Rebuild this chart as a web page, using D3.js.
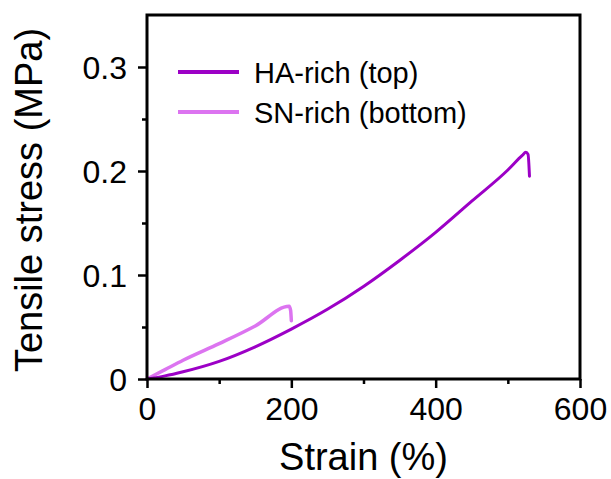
<!DOCTYPE html>
<html>
<head>
<meta charset="utf-8">
<script src="https://cdn.jsdelivr.net/npm/d3@7"></script>
<style>
  html, body { margin: 0; padding: 0; background: #fff; }
  svg { display: block; font-family: Arial, "Liberation Sans", sans-serif; }
</style>
</head>
<body>
<script>
//## Data

// strain (%) , tensile stress (MPa)
const haStrain = [0, 25, 50, 100, 150, 200, 250, 300, 350, 400, 450, 500, 520, 525, 528, 530];
const haStress = [0, 0.003, 0.007, 0.017, 0.031, 0.048, 0.067, 0.089, 0.114, 0.141, 0.171, 0.201, 0.215, 0.218, 0.216, 0.195];

const snStrain = [0, 25, 50, 100, 150, 197, 199, 200];
const snStress = [0, 0.009, 0.018, 0.034, 0.051, 0.070, 0.066, 0.056];

const seriesNames = ["HA-rich (top)", "SN-rich (bottom)"];
const seriesColors = ["#9c00c6", "#dc74f0"];

const xTicks = [0, 200, 400, 600];
const xMinor = [100, 300, 500];
const yTicks = [0, 0.1, 0.2, 0.3];
const yMinor = [0.05, 0.15, 0.25];

//## Chart

const width = 611;
const height = 479;
const margin = { top: 15, right: 31, bottom: 100, left: 147 };

const x = d3.scaleLinear().domain([0, 600]).range([margin.left, width - margin.right]);
const y = d3.scaleLinear().domain([0, 0.35]).range([height - margin.bottom, margin.top]);

const svg = d3.select("body").append("svg")
  .attr("width", width)
  .attr("height", height);

const series = [
  { name: seriesNames[0], color: seriesColors[0], width: 3, values: d3.zip(haStrain, haStress) },
  { name: seriesNames[1], color: seriesColors[1], width: 3.5, values: d3.zip(snStrain, snStress) }
];

const line = d3.line()
  .x((d) => x(d[0]))
  .y((d) => y(d[1]))
  .curve(d3.curveMonotoneX);

// draw SN first so HA lies on top
svg.append("g")
  .selectAll("path")
  .data(series.slice().reverse())
  .join("path")
  .attr("fill", "none")
  .attr("stroke", (d) => d.color)
  .attr("stroke-width", (d) => d.width)
  .attr("stroke-linejoin", "round")
  .attr("stroke-linecap", "round")
  .attr("d", (d) => line(d.values));

// frame
svg.append("rect")
  .attr("x", x(0))
  .attr("y", y(0.35))
  .attr("width", x(600) - x(0))
  .attr("height", y(0) - y(0.35))
  .attr("fill", "none")
  .attr("stroke", "#000")
  .attr("stroke-width", 3);

//## Axes

const xAxis = svg.append("g")
  .attr("transform", `translate(0,${y(0)})`)
  .call(d3.axisBottom(x).tickValues(xTicks).tickSize(9).tickFormat(d3.format("d")));

xAxis.append("g")
  .call(d3.axisBottom(x).tickValues(xMinor).tickSize(5).tickFormat(""));

const yAxis = svg.append("g")
  .attr("transform", `translate(${x(0)},0)`)
  .call(d3.axisLeft(y).tickValues(yTicks).tickSize(9).tickPadding(11).tickFormat((d) => (d === 0 ? "0" : d3.format(".1f")(d))));

yAxis.append("g")
  .call(d3.axisLeft(y).tickValues(yMinor).tickSize(5).tickFormat(""));

svg.selectAll(".domain").remove();
svg.selectAll(".tick line").attr("stroke", "#000").attr("stroke-width", 2.5);
svg.selectAll(".tick text")
  .attr("fill", "#000")
  .style("font-size", "32px")
  .style("font-family", "Arial, 'Liberation Sans', sans-serif");

xAxis.selectAll(".tick text").attr("y", 41).attr("dy", 0);
yAxis.selectAll(".tick text").attr("dy", "0.35em");

svg.append("text")
  .attr("x", (x(0) + x(600)) / 2)
  .attr("y", 470)
  .attr("text-anchor", "middle")
  .style("font-size", "38px")
  .text("Strain (%)");

svg.append("text")
  .attr("transform", `translate(42,200) rotate(-90)`)
  .attr("text-anchor", "middle")
  .style("font-size", "38px")
  .text("Tensile stress (MPa)");

//## Legend

const legend = svg.append("g")
  .selectAll("g")
  .data(series)
  .join("g")
  .attr("transform", (d, i) => `translate(178,${72 + i * 40})`);

legend.append("line")
  .attr("x1", 0)
  .attr("x2", 61)
  .attr("stroke", (d) => d.color)
  .attr("stroke-width", 4);

legend.append("text")
  .attr("x", 76)
  .attr("y", 11)
  .style("font-size", "29px")
  .text((d) => d.name);
</script>
</body>
</html>
